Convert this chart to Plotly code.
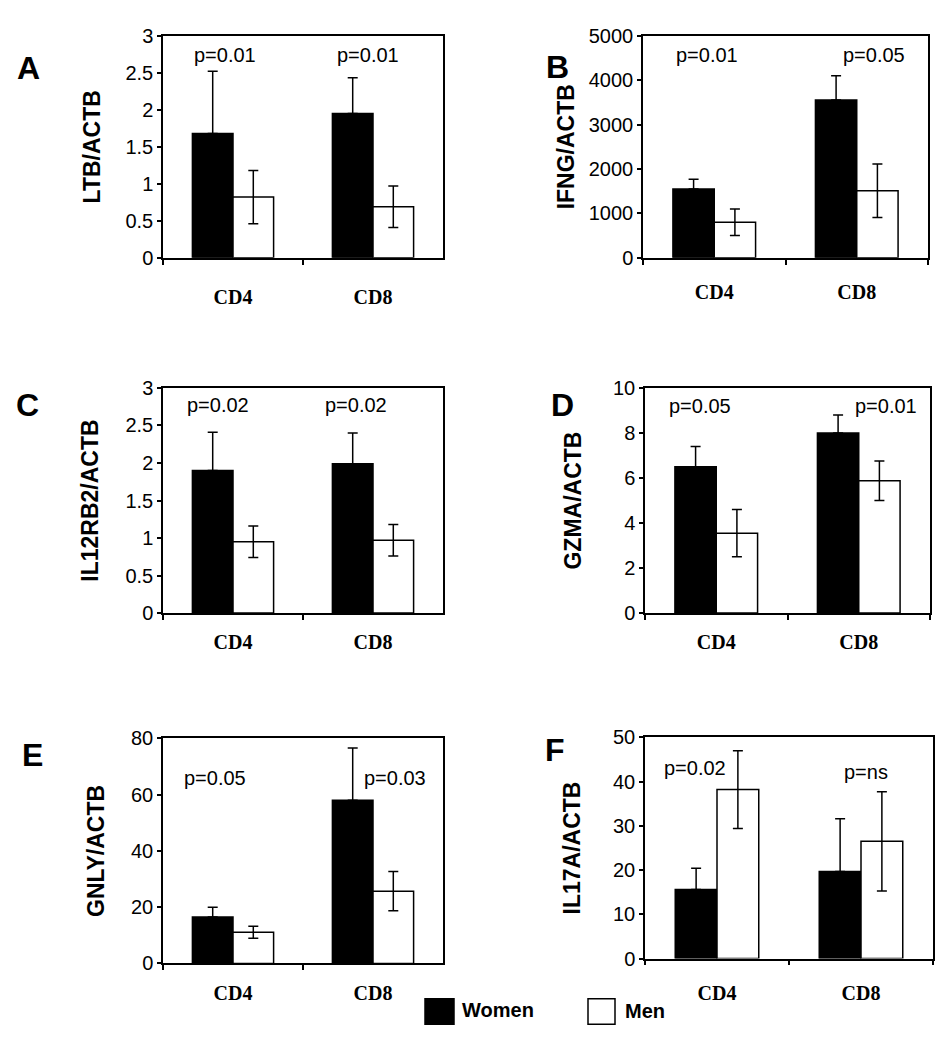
import plotly.graph_objects as go

# ---------------- data ----------------
categories = ["CD4", "CD8"]

ltb_women = [1.68, 1.95]
ltb_women_sd = [0.84, 0.48]
ltb_men = [0.82, 0.69]
ltb_men_sd = [0.36, 0.28]
ltb_p = ["p=0.01", "p=0.01"]

ifng_women = [1550, 3550]
ifng_women_sd = [220, 550]
ifng_men = [800, 1510]
ifng_men_sd = [300, 600]
ifng_p = ["p=0.01", "p=0.05"]

il12rb2_women = [1.90, 1.99]
il12rb2_women_sd = [0.51, 0.41]
il12rb2_men = [0.95, 0.97]
il12rb2_men_sd = [0.21, 0.21]
il12rb2_p = ["p=0.02", "p=0.02"]

gzma_women = [6.5, 8.0]
gzma_women_sd = [0.9, 0.8]
gzma_men = [3.55, 5.88]
gzma_men_sd = [1.05, 0.88]
gzma_p = ["p=0.05", "p=0.01"]

gnly_women = [16.5, 58.0]
gnly_women_sd = [3.5, 18.6]
gnly_men = [11.1, 25.7]
gnly_men_sd = [2.1, 7.0]
gnly_p = ["p=0.05", "p=0.03"]

il17a_women = [15.6, 19.7]
il17a_women_sd = [4.8, 11.9]
il17a_men = [38.2, 26.5]
il17a_men_sd = [8.8, 11.2]
il17a_p = ["p=0.02", "p=ns"]

legend_labels = ["Women", "Men"]

# ---------------- layout helpers ----------------
PAGE_W, PAGE_H = 948, 1050
BODY = 8  # default page margin around the figure
W, H = PAGE_W - 2 * BODY, PAGE_H - 2 * BODY
SANS = "Liberation Sans"
SERIF = "Liberation Serif"


def fx(x):
    return (x - BODY) / W


def fy(y):
    return 1 - (y - BODY) / H


panels = [
    dict(letter="A", title="LTB/ACTB", women=ltb_women, wsd=ltb_women_sd, men=ltb_men, msd=ltb_men_sd,
         p=ltb_p, ymax=3, dtick=0.5, xd=(163, 443), yd=(25, 252), lp=(28, 58),
         pp=[(225, 45), (368, 45)], so=18, ls=20),
    dict(letter="B", title="IFNG/ACTB", women=ifng_women, wsd=ifng_women_sd, men=ifng_men, msd=ifng_men_sd,
         p=ifng_p, ymax=5000, dtick=1000, xd=(643, 928), yd=(25, 252), lp=(557, 57),
         pp=[(707, 45), (874, 45)], so=8, ls=15),
    dict(letter="C", title="IL12RB2/ACTB", women=il12rb2_women, wsd=il12rb2_women_sd, men=il12rb2_men,
         msd=il12rb2_men_sd, p=il12rb2_p, ymax=3, dtick=0.5, xd=(163, 443), yd=(385, 615), lp=(27, 402),
         pp=[(218, 402), (356, 402)], so=20, ls=10),
    dict(letter="D", title="GZMA/ACTB", women=gzma_women, wsd=gzma_women_sd, men=gzma_men, msd=gzma_men_sd,
         p=gzma_p, ymax=10, dtick=2, xd=(645, 930), yd=(385, 615), lp=(562, 402),
         pp=[(700, 403), (886, 403)], so=25, ls=10),
    dict(letter="E", title="GNLY/ACTB", women=gnly_women, wsd=gnly_women_sd, men=gnly_men, msd=gnly_men_sd,
         p=gnly_p, ymax=80, dtick=20, xd=(163, 443), yd=(743, 973), lp=(32, 760),
         pp=[(215, 783), (395, 783)], so=20, ls=11),
    dict(letter="F", title="IL17A/ACTB", women=il17a_women, wsd=il17a_women_sd, men=il17a_men,
         msd=il17a_men_sd, p=il17a_p, ymax=50, dtick=10, xd=(645, 933), yd=(742, 968), lp=(555, 755),
         pp=[(695, 773), (866, 777)], so=26, ls=16),
]

fig = go.Figure()
annotations = []
shapes = []
layout_axes = {}

for i, pn in enumerate(panels, 1):
    xa = "x" if i == 1 else f"x{i}"
    ya = "y" if i == 1 else f"y{i}"
    fig.add_trace(go.Bar(
        x=categories, y=pn["women"], name=legend_labels[0], showlegend=False,
        marker=dict(color="black", line=dict(color="black", width=1.5)),
        error_y=dict(type="data", symmetric=False, array=pn["wsd"], arrayminus=[0] * len(categories),
                     color="black", thickness=1.5, width=5),
        xaxis=xa, yaxis=ya))
    fig.add_trace(go.Bar(
        x=categories, y=pn["men"], name=legend_labels[1], showlegend=False,
        marker=dict(color="white", line=dict(color="black", width=1.5)),
        error_y=dict(type="data", array=pn["msd"], color="black", thickness=1.5, width=5),
        xaxis=xa, yaxis=ya))

    xkey = "xaxis" if i == 1 else f"xaxis{i}"
    ykey = "yaxis" if i == 1 else f"yaxis{i}"
    layout_axes[xkey] = dict(
        domain=[fx(pn["xd"][0]), fx(pn["xd"][1])], anchor=ya,
        showline=True, linecolor="black", linewidth=1.5, mirror=True,
        ticks="outside", tickson="boundaries", ticklen=5, tickwidth=1.5, tickcolor="black",
        tickfont=dict(family=SERIF, size=20, color="black", weight="bold"),
        ticklabelstandoff=pn["ls"], showgrid=False, zeroline=False, fixedrange=True)
    layout_axes[ykey] = dict(
        domain=[fy(pn["yd"][1]), fy(pn["yd"][0])], anchor=xa,
        range=[0, pn["ymax"]], dtick=pn["dtick"], tick0=0,
        showline=True, linecolor="black", linewidth=1.5, mirror=True,
        ticks="outside", ticklen=4, tickwidth=1.5, tickcolor="black",
        tickfont=dict(family=SANS, size=20, color="black"),
        showgrid=False, zeroline=False, fixedrange=True,
        title=dict(text=pn["title"], font=dict(family=SANS, size=23, color="black", weight="bold"),
                   standoff=pn["so"]))

    annotations.append(dict(
        text=pn["letter"], x=fx(pn["lp"][0]), y=fy(pn["lp"][1]), xref="paper", yref="paper",
        showarrow=False, xanchor="center", yanchor="middle",
        font=dict(family=SANS, size=32, color="black", weight="bold")))
    for txt, (px, py) in zip(pn["p"], pn["pp"]):
        annotations.append(dict(
            text=txt, x=fx(px), y=fy(py), xref="paper", yref="paper", showarrow=False,
            xanchor="center", yanchor="middle", font=dict(family=SANS, size=20, color="black")))

# legend (drawn manually to match the large square swatches)
shapes.append(dict(type="rect", xref="paper", yref="paper", x0=fx(425), x1=fx(454), y0=fy(1035), y1=fy(1009),
                   fillcolor="black", line=dict(color="black", width=1.5)))
shapes.append(dict(type="rect", xref="paper", yref="paper", x0=fx(588), x1=fx(615), y0=fy(1035), y1=fy(1009),
                   fillcolor="white", line=dict(color="black", width=1.5)))
annotations.append(dict(text=legend_labels[0], x=fx(460), y=fy(1021), xref="paper", yref="paper",
                        showarrow=False, xanchor="left", yanchor="middle",
                        font=dict(family=SANS, size=20, color="black", weight="bold")))
annotations.append(dict(text=legend_labels[1], x=fx(623), y=fy(1022), xref="paper", yref="paper",
                        showarrow=False, xanchor="left", yanchor="middle",
                        font=dict(family=SANS, size=20, color="black", weight="bold")))

fig.update_layout(
    width=W, height=H, margin=dict(l=0, r=0, t=0, b=0),
    paper_bgcolor="white", plot_bgcolor="white",
    barmode="group", bargap=0.42, bargroupgap=0,
    showlegend=False, annotations=annotations, shapes=shapes,
    **layout_axes)

fig.write_html("out.html")
